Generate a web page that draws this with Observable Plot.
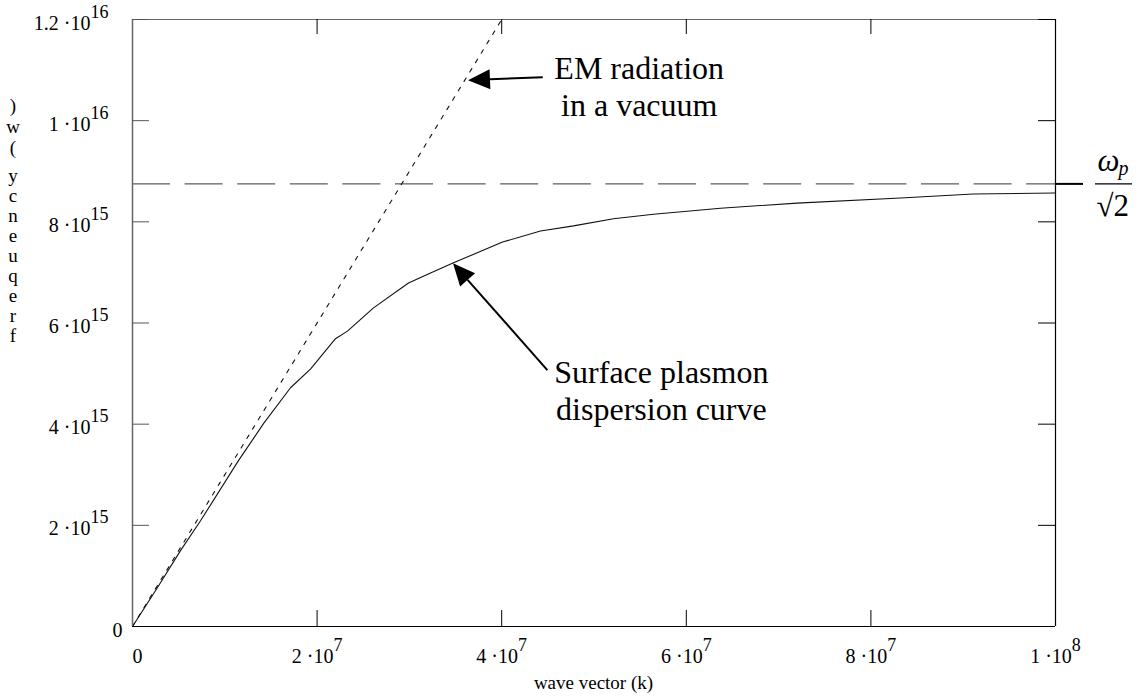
<!DOCTYPE html>
<html>
<head>
<meta charset="utf-8">
<script src="https://cdn.jsdelivr.net/npm/d3@7"></script>
<script src="https://cdn.jsdelivr.net/npm/@observablehq/plot@0.6"></script>
<style>
  html, body { margin: 0; padding: 0; background: #fff; }
  svg { display: block; }
</style>
</head>
<body>
<div id="chart"></div>
<script>
// ---- data ----
// Surface plasmon dispersion curve: wave vector k (1/m) and frequency w (rad/s)
const spK = [0, 0.271e7, 0.52e7, 0.737e7, 1.148e7, 1.419e7, 1.712e7, 1.928e7, 2.199e7, 2.329e7,
             2.611e7, 2.99e7, 3.229e7, 3.478e7, 4.009e7, 4.42e7, 4.778e7, 5.211e7, 5.645e7,
             6.37e7, 7.2e7, 8.32e7, 9.11e7, 1e8];
const spW = [0, 0.77e15, 1.50e15, 2.09e15, 3.28e15, 4.01e15, 4.72e15, 5.09e15, 5.69e15, 5.84e15,
             6.30e15, 6.79e15, 6.99e15, 7.19e15, 7.60e15, 7.82e15, 7.92e15, 8.06e15, 8.15e15,
             8.27e15, 8.37e15, 8.47e15, 8.55e15, 8.57e15];
// EM radiation in a vacuum (light line)
const emK = [0, 4e7];
const emW = [0, 1.2e16];
// asymptote w_p / sqrt(2)
const omegaSP = 8.75e15;

const xTicks = [2e7, 4e7, 6e7, 8e7, 1e8];
const xTickLabels = ["2 ·10^7", "4 ·10^7", "6 ·10^7", "8 ·10^7", "1 ·10^8"];
const yTicks = [2e15, 4e15, 6e15, 8e15, 1e16, 1.2e16];
const yTickLabels = ["2 ·10^15", "4 ·10^15", "6 ·10^15", "8 ·10^15", "1 ·10^16", "1.2 ·10^16"];
const zeroLabel = "0";
const xLabel = "wave vector (k)";
const yLabel = "frequency (w)";

const emNote = "EM radiation\nin a vacuum";
const emNoteAt = [5.49e7, 1.01e16];
const emArrowTip = [3.64e7, 1.079e16];
const emArrowTail = [4.45e7, 1.085e16];
const spNote = "Surface plasmon\ndispersion curve";
const spNoteAt = [5.73e7, 4.09e15];
const spArrowTip = [3.478e7, 7.17e15];
const spArrowTail = [4.5e7, 5.06e15];

// ---- layout ----
const W = 1138, H = 698;
const mL = 132, mR = 83, mT = 19, mB = 72;
const plotW = W - mL - mR;
const plotH = H - mT - mB;
const serif = "'Liberation Serif','Times New Roman',Times,serif";

const sp = spK.map((k, i) => ({k, w: spW[i]}));
const em = emK.map((k, i) => ({k, w: emW[i]}));
const yTickData = yTicks.map((v, i) => ({v, label: yTickLabels[i]}));
const xTickData = xTicks.map((v, i) => ({v, label: xTickLabels[i]}));

const chart = Plot.plot({
  width: W, height: H,
  marginLeft: mL, marginRight: mR, marginTop: mT, marginBottom: mB,
  style: {fontFamily: serif, background: "#fff", color: "#000"},
  x: {domain: [0, 1e8], axis: null},
  y: {domain: [0, 1.2e16], axis: null},
  marks: [
    // asymptote
    Plot.ruleY([omegaSP], {stroke: "#333", strokeWidth: 1, strokeDasharray: "38,14.6"}),
    Plot.ruleY([omegaSP], {stroke: "#000", strokeWidth: 2, insetLeft: plotW, insetRight: -28}),
    Plot.ruleY([omegaSP], {stroke: "#000", strokeWidth: 1.3, insetLeft: plotW + 40, insetRight: -77}),
    // curves
    Plot.line(em, {x: "k", y: "w", stroke: "#111", strokeWidth: 1.1, strokeDasharray: "4,7"}),
    Plot.line(sp, {x: "k", y: "w", stroke: "#111", strokeWidth: 1.1}),
    // frame
    Plot.ruleX([0], {stroke: "#666", strokeWidth: 1.5}),
    Plot.ruleY([1.2e16], {stroke: "#666", strokeWidth: 1.2}),
    Plot.ruleY([0], {stroke: "#000", strokeWidth: 1.2}),
    Plot.ruleX([1e8], {stroke: "#000", strokeWidth: 1.2}),
    // inward ticks
    Plot.ruleY(yTicks, {stroke: "#555", insetRight: plotW - 17}),
    Plot.ruleY(yTicks, {stroke: "#000", insetLeft: plotW - 17}),
    Plot.ruleX(xTicks.slice(0, -1), {stroke: "#000", insetTop: plotH - 16}),
    Plot.ruleX(xTicks.slice(0, -1), {stroke: "#000", insetBottom: plotH - 15}),
    // tick labels
    Plot.text(yTickData, {x: 0, y: "v", text: "label", textAnchor: "end", lineAnchor: "bottom",
      dx: -24, dy: 10, fontSize: 20, fill: "#000"}),
    Plot.text(xTickData, {x: "v", y: 0, text: "label", textAnchor: "middle", lineAnchor: "bottom",
      dy: 36, fontSize: 20, fill: "#000"}),
    Plot.text([zeroLabel], {x: 0, y: 0, text: d => d, textAnchor: "end", lineAnchor: "bottom",
      dx: -10, dy: 10, fontSize: 20, fill: "#000"}),
    Plot.text([zeroLabel], {x: 0, y: 0, text: d => d, textAnchor: "middle", lineAnchor: "bottom",
      dx: 5, dy: 36, fontSize: 20, fill: "#000"}),
    // annotations
    Plot.text([emNote], {x: emNoteAt[0], y: emNoteAt[1], text: d => d, textAnchor: "middle",
      lineAnchor: "bottom", lineHeight: 1.15, fontSize: 32, fill: "#000"}),
    Plot.text([spNote], {x: spNoteAt[0], y: spNoteAt[1], text: d => d, textAnchor: "middle",
      lineAnchor: "bottom", lineHeight: 1.15, fontSize: 32, fill: "#000"}),
    // w_p / sqrt(2) label
    Plot.text(["ω"], {x: 1e8, y: omegaSP, text: d => d, textAnchor: "start", lineAnchor: "bottom",
      dx: 42, dy: -13, fontSize: 31, fontStyle: "italic", fill: "#000"}),
    Plot.text(["p"], {x: 1e8, y: omegaSP, text: d => d, textAnchor: "start", lineAnchor: "bottom",
      dx: 63, dy: -9, fontSize: 20, fontStyle: "italic", fill: "#000"}),
    Plot.text(["√2"], {x: 1e8, y: omegaSP, text: d => d, textAnchor: "start", lineAnchor: "bottom",
      dx: 41, dy: 32, fontSize: 31, fill: "#000"})
  ]
});

document.getElementById("chart").appendChild(chart);
const svg = d3.select(chart);
const sx = chart.scale("x"), sy = chart.scale("y");

// arrows with filled heads
function arrow(tip, tail) {
  const tx = sx.apply(tip[0]), ty = sy.apply(tip[1]);
  const ax = sx.apply(tail[0]), ay = sy.apply(tail[1]);
  const dx = ax - tx, dy = ay - ty, L = Math.hypot(dx, dy);
  const ux = dx / L, uy = dy / L, hl = 22, hw = 10;
  const bx = tx + ux * hl, by = ty + uy * hl;
  svg.append("line").attr("x1", ax).attr("y1", ay).attr("x2", bx).attr("y2", by)
    .attr("stroke", "#000").attr("stroke-width", 2);
  svg.append("path")
    .attr("d", `M${tx},${ty}L${bx - uy * hw},${by + ux * hw}L${bx + uy * hw},${by - ux * hw}Z`)
    .attr("fill", "#000");
}
arrow(emArrowTip, emArrowTail);
arrow(spArrowTip, spArrowTail);

// axis titles
svg.append("text").attr("x", mL + plotW / 2).attr("y", 689).attr("text-anchor", "middle")
  .attr("font-family", serif).attr("font-size", 19).attr("fill", "#000").text(xLabel);
const chars = yLabel.split("").reverse();
const baselines = [112, 133, 154, null, 182, 202, 222, 242, 262, 282, 302, 322, 342];
chars.forEach((c, i) => {
  if (c === " " || baselines[i] == null) return;
  svg.append("text").attr("x", 13).attr("y", baselines[i]).attr("text-anchor", "middle")
    .attr("font-family", serif).attr("font-size", 19).attr("fill", "#000").text(c);
});

// superscripts in tick labels
chart.querySelectorAll("text").forEach(t => {
  const s = t.textContent;
  if (!s.includes("^")) return;
  const [base, exp] = s.split("^");
  t.textContent = "";
  const ns = "http://www.w3.org/2000/svg";
  const b = document.createElementNS(ns, "tspan"); b.textContent = base; t.appendChild(b);
  const e = document.createElementNS(ns, "tspan"); e.textContent = exp;
  e.setAttribute("dy", "-12"); e.setAttribute("font-size", "18"); t.appendChild(e);
});
</script>
</body>
</html>
